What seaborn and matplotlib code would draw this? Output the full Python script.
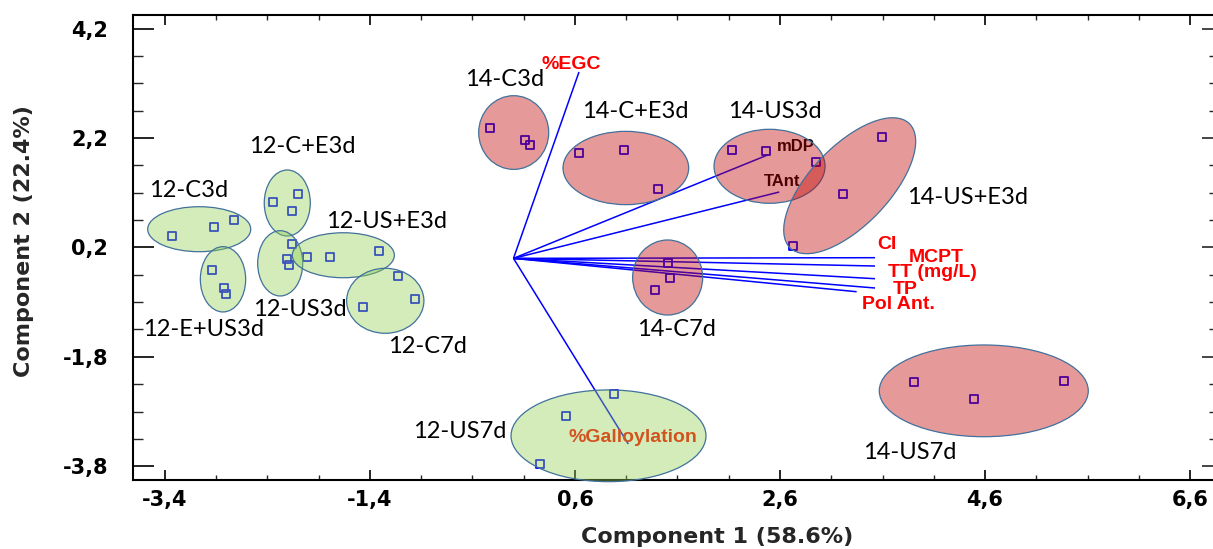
import numpy as np
import pandas as pd
import matplotlib
matplotlib.use("Agg")
import matplotlib.pyplot as plt
import seaborn as sns
from matplotlib.patches import Ellipse
from matplotlib.transforms import Affine2D
from matplotlib.ticker import FixedLocator, FuncFormatter

# ---------------- data ----------------
group_names = ["12-C3d", "12-C+E3d", "12-US3d", "12-US+E3d", "12-E+US3d", "12-C7d", "12-US7d",
               "14-C3d", "14-C+E3d", "14-US3d", "14-US+E3d", "14-C7d", "14-US7d"]
score_group = [g for g in group_names for _ in range(3)]
score_pc1 = [-3.335, -2.919, -2.724,
             -2.349, -2.100, -2.158,
             -2.158, -2.210, -2.190,
             -2.012, -1.790, -1.309,
             -2.941, -2.821, -2.805,
             -1.471, -1.124, -0.961,
             0.978, 0.509, 0.262,
             -0.226, 0.109, 0.161,
             0.642, 1.075, 1.407,
             2.136, 2.465, 2.950,
             3.599, 3.211, 2.723,
             1.507, 1.524, 1.378,
             3.907, 4.490, 5.374]
score_pc2 = [0.408, 0.578, 0.701,
             1.030, 1.171, 0.860,
             0.262, -0.012, -0.116,
             0.019, 0.019, 0.140,
             -0.208, -0.537, -0.646,
             -0.890, -0.328, -0.738,
             -2.486, -2.888, -3.765,
             2.383, 2.163, 2.067,
             1.920, 1.981, 1.262,
             1.981, 1.962, 1.765,
             2.222, 1.178, 0.227,
             -0.085, -0.359, -0.579,
             -2.266, -2.577, -2.237]

# group ellipses (centre in data units, axes lengths in x-units, angle in screen degrees)
ell_cx = [-3.066, -2.207, -2.276, -1.660, -2.834, -1.251, 0.927,
          0.002, 1.096, 2.498, 3.280, 1.504, 4.588]
ell_cy = [0.533, 1.012, -0.091, 0.057, -0.383, -0.776, -3.244,
          2.300, 1.652, 1.683, 1.328, -0.350, -2.422]
ell_w = [1.005, 0.449, 0.439, 0.995, 0.442, 0.754, 1.902,
         0.683, 1.226, 1.083, 1.680, 0.683, 2.039]
ell_h = [0.439, 0.644, 0.637, 0.439, 0.637, 0.634, 0.895,
         0.719, 0.715, 0.722, 0.771, 0.732, 0.895]
ell_angle = [0, 0, 0, 0, 0, 0, 0, 0, 0, 0, 46.3, 0, 0]

label_x = [-3.173, -2.060, -2.083, -1.237, -3.026, -0.844, -0.529,
           -0.083, 1.192, 2.545, 4.433, 1.585, 3.862]
label_y = [1.237, 2.041, -0.944, 0.670, -1.297, -1.603, -3.169,
           3.273, 2.681, 2.681, 1.112, -1.292, -3.544]

# loadings (vectors from the origin)
loading_names = ["%EGC", "mDP", "TAnt", "CI", "MCPT", "TT (mg/L)", "TP", "Pol Ant.", "%Galloylation"]
loading_x = [0.639, 2.486, 2.593, 3.527, 3.527, 3.527, 3.527, 3.348, 1.120]
loading_y = [3.407, 1.895, 1.213, 0.012, -0.140, -0.372, -0.542, -0.610, -3.394]
loading_lab_x = [0.568, 2.756, 2.617, 3.641, 4.122, 4.088, 3.822, 3.759, 1.163]
loading_lab_y = [3.553, 2.041, 1.408, 0.249, 0.020, -0.255, -0.575, -0.845, -3.279]
loading_lab_color = ["#FF0000", "#000000", "#000000", "#FF0000", "#FF0000", "#FF0000",
                     "#FF0000", "#FF0000", "#FF0000"]
loading_lab_size = [14, 12, 12, 14, 14, 14, 14, 14, 14]
loading_lab_under = [False, True, True, False, False, False, False, False, True]

x_major = [-3.4, -1.4, 0.6, 2.6, 4.6, 6.6]
y_major = [-3.8, -1.8, 0.2, 2.2, 4.2]
xlim = (-3.712, 6.834)
ylim = (-4.052, 4.449)

# ---------------- style ----------------
sns.set_style("ticks")
plt.rcParams['font.family'] = ['DejaVu Sans']
plt.rcParams['font.weight'] = 'bold'
plt.rcParams['axes.labelweight'] = 'bold'

W, H = 1213, 549
fig = plt.figure(figsize=(W / 100, H / 100), dpi=100)
ax = fig.add_axes([133 / W, 69 / H, 1081 / W, 465 / H])
ax.set_xlim(*xlim)
ax.set_ylim(*ylim)

df = pd.DataFrame({"group": score_group, "PC1": score_pc1, "PC2": score_pc2})
sns.scatterplot(data=df, x="PC1", y="PC2", marker="s", s=34, facecolors="none",
                edgecolor="#0000FF", linewidth=1.3, ax=ax, zorder=2, legend=False)

# loading vectors
for lx, ly in zip(loading_x, loading_y):
    ax.plot([0, lx], [0, ly], color="#0000FF", lw=1.1, zorder=2, solid_capstyle="butt")

for name, tx, ty, c, fs, under in zip(loading_names, loading_lab_x, loading_lab_y,
                                      loading_lab_color, loading_lab_size, loading_lab_under):
    ax.text(tx, ty, name, color=c, fontsize=fs, fontweight="bold",
            family=["Liberation Sans", "DejaVu Sans"], ha="center", va="center",
            zorder=2.6 if under else 6)

# ellipses (drawn with isotropic screen shape)
ax_w_px = 1081.0
ax_h_px = 465.0
ppu_x = ax_w_px / (xlim[1] - xlim[0])
ppu_y = ax_h_px / (ylim[1] - ylim[0])
k = ppu_y / ppu_x
etrans = Affine2D().scale(1, 1 / k) + ax.transData
for g, cx, cy, w, h, ang in zip(group_names, ell_cx, ell_cy, ell_w, ell_h, ell_angle):
    fc = (0x92 / 255, 0xD0 / 255, 0x50 / 255, 0.4) if g.startswith("12") else (0xC0 / 255, 0, 0, 0.4)
    e = Ellipse((cx, cy * k), w, h, angle=ang, facecolor=fc, edgecolor="#41719C",
                linewidth=0.9, transform=etrans, zorder=3, clip_on=False)
    ax.add_patch(e)

for g, tx, ty in zip(group_names, label_x, label_y):
    ax.text(tx, ty, g, fontsize=17, fontweight="normal", family=["Lato", "DejaVu Sans"],
            color="black", ha="center", va="center", zorder=7)

# axes / ticks
fmt = FuncFormatter(lambda v, p: ("%.1f" % v).replace(".", ","))
ax.xaxis.set_major_locator(FixedLocator(x_major))
ax.yaxis.set_major_locator(FixedLocator(y_major))
ax.xaxis.set_minor_locator(FixedLocator(np.arange(-3.9, 7.0, 0.5)))
ax.yaxis.set_minor_locator(FixedLocator(np.arange(-3.8, 4.5, 0.5)))
ax.xaxis.set_major_formatter(fmt)
ax.yaxis.set_major_formatter(fmt)

for sp in ax.spines.values():
    sp.set_linewidth(1.5)
    sp.set_color("black")
    sp.set_visible(True)

ax.tick_params(axis="x", which="major", direction="in", length=7.2, width=1.2,
               top=True, bottom=True, labelsize=15, pad=7, colors="black")
ax.tick_params(axis="x", which="minor", direction="in", length=3.8, width=1.0,
               top=True, bottom=True)
ax.tick_params(axis="y", which="major", direction="in", length=15, width=1.2,
               left=True, right=False, labelsize=15, pad=18, colors="black")
ax.tick_params(axis="y", which="minor", direction="in", length=7.5, width=1.0,
               left=True, right=False)

sec = ax.secondary_yaxis("right")
sec.yaxis.set_major_locator(FixedLocator(y_major))
sec.yaxis.set_minor_locator(FixedLocator(np.arange(-3.8, 4.5, 0.5)))
sec.tick_params(axis="y", which="major", direction="in", length=9, width=1.2, labelright=False)
sec.tick_params(axis="y", which="minor", direction="in", length=3.6, width=1.0)
sec.spines["right"].set_linewidth(1.5)

ax.set_xlabel("Component 1 (58.6%)", fontsize=16, fontweight="bold")
ax.set_ylabel("Component 2 (22.4%)", fontsize=16, fontweight="bold")
ax.xaxis.label.set_va("center")
ax.yaxis.label.set_va("center")
ax.xaxis.set_label_coords(0.540, -0.1226)
ax.yaxis.set_label_coords(-0.1008, 0.514)

fig.savefig("out.png", dpi=100)
